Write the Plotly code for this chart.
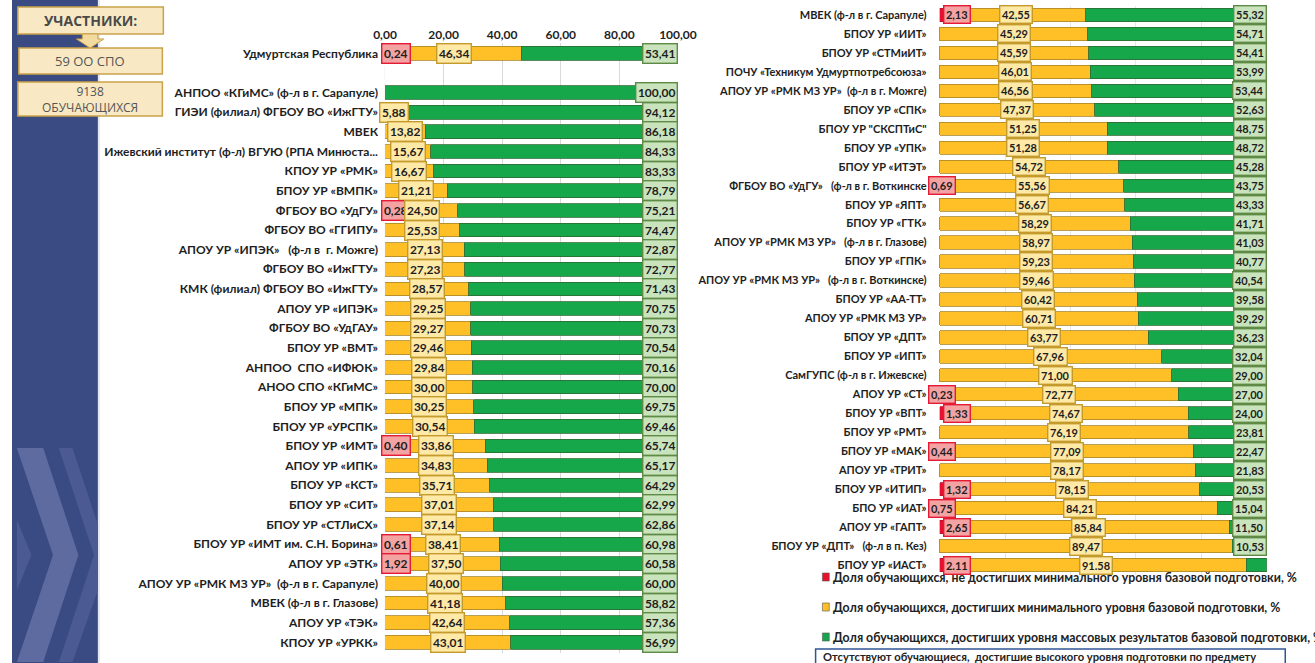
import plotly.graph_objects as go

# ---------------- DATA ----------------
left_names = [
    "Удмуртская Республика", " ",
    "АНПОО «КГиМС» (ф-л в г. Сарапуле)",
    "ГИЭИ (филиал) ФГБОУ ВО «ИжГТУ»",
    "МВЕК",
    "Ижевский институт (ф-л) ВГУЮ (РПА Минюста...",
    "КПОУ УР «РМК»",
    "БПОУ УР «ВМПК»",
    "ФГБОУ ВО «УдГУ»",
    "ФГБОУ ВО «ГГИПУ»",
    "АПОУ УР «ИПЭК»   (ф-л в  г. Можге)",
    "ФГБОУ ВО «ИжГТУ»",
    "КМК (филиал) ФГБОУ ВО «ИжГТУ»",
    "АПОУ УР «ИПЭК»",
    "ФГБОУ ВО «УдГАУ»",
    "БПОУ УР «ВМТ»",
    "АНПОО  СПО «ИФЮК»",
    "АНОО СПО «КГиМС»",
    "БПОУ УР «МПК»",
    "БПОУ УР «УРСПК»",
    "БПОУ УР «ИМТ»",
    "АПОУ УР «ИПК»",
    "БПОУ УР «КСТ»",
    "БПОУ УР «СИТ»",
    "БПОУ УР «СТЛиСХ»",
    "БПОУ УР «ИМТ им. С.Н. Борина»",
    "АПОУ УР «ЭТК»",
    "АПОУ УР «РМК МЗ УР»  (ф-л в г. Сарапуле)",
    "МВЕК (ф-л в г. Глазове)",
    "АПОУ УР «ТЭК»",
    "КПОУ УР «УРКК»",
]
left_red = [0.24, 0, 0, 0, 0, 0, 0, 0, 0.28, 0, 0, 0, 0, 0, 0, 0, 0, 0, 0, 0,
            0.40, 0, 0, 0, 0, 0.61, 1.92, 0, 0, 0, 0]
left_yellow = [46.34, 0, 0, 5.88, 13.82, 15.67, 16.67, 21.21, 24.50, 25.53, 27.13,
               27.23, 28.57, 29.25, 29.27, 29.46, 29.84, 30.00, 30.25, 30.54,
               33.86, 34.83, 35.71, 37.01, 37.14, 38.41, 37.50, 40.00, 41.18,
               42.64, 43.01]
left_green = [53.41, 0, 100.00, 94.12, 86.18, 84.33, 83.33, 78.79, 75.21, 74.47,
              72.87, 72.77, 71.43, 70.75, 70.73, 70.54, 70.16, 70.00, 69.75,
              69.46, 65.74, 65.17, 64.29, 62.99, 62.86, 60.98, 60.58, 60.00,
              58.82, 57.36, 56.99]

right_names = [
    "МВЕК (ф-л в г. Сарапуле)",
    "БПОУ УР «ИИТ»",
    "БПОУ УР «СТМиИТ»",
    "ПОЧУ «Техникум Удмуртпотребсоюза»",
    "АПОУ УР «РМК МЗ УР»  (ф-л в г. Можге)",
    "БПОУ УР «СПК»",
    "БПОУ УР \"СКСПТиС\"",
    "БПОУ УР «УПК»",
    "БПОУ УР «ИТЭТ»",
    "ФГБОУ ВО «УдГУ»   (ф-л в г. Воткинске",
    "БПОУ УР «ЯПТ»",
    "БПОУ УР «ГТК»",
    "АПОУ УР «РМК МЗ УР»   (ф-л в г. Глазове)",
    "БПОУ УР «ГПК»",
    "АПОУ УР «РМК МЗ УР»   (ф-л в г. Воткинске)",
    "БПОУ УР «АА-ТТ»",
    "АПОУ УР «РМК МЗ УР»",
    "БПОУ УР «ДПТ»",
    "БПОУ УР «ИПТ»",
    "СамГУПС (ф-л в г. Ижевске)",
    "АПОУ УР «СТ»",
    "БПОУ УР «ВПТ»",
    "БПОУ УР «РМТ»",
    "БПОУ УР «МАК»",
    "АПОУ УР «ТРИТ»",
    "БПОУ УР «ИТИП»",
    "БПО УР «ИАТ»",
    "АПОУ УР «ГАПТ»",
    "БПОУ УР «ДПТ»   (ф-л в п. Кез)",
    "БПОУ УР «ИАСТ»",
]
right_red = [2.13, 0, 0, 0, 0, 0, 0, 0, 0, 0.69, 0, 0, 0, 0, 0, 0, 0, 0, 0, 0,
             0.23, 1.33, 0, 0.44, 0, 1.32, 0.75, 2.65, 0, 2.11]
right_yellow = [42.55, 45.29, 45.59, 46.01, 46.56, 47.37, 51.25, 51.28, 54.72,
                55.56, 56.67, 58.29, 58.97, 59.23, 59.46, 60.42, 60.71, 63.77,
                67.96, 71.00, 72.77, 74.67, 76.19, 77.09, 78.17, 78.15, 84.21,
                85.84, 89.47, 91.58]
right_green = [55.32, 54.71, 54.41, 53.99, 53.44, 52.63, 48.75, 48.72, 45.28,
               43.75, 43.33, 41.71, 41.03, 40.77, 40.54, 39.58, 39.29, 36.23,
               32.04, 29.00, 27.00, 24.00, 23.81, 22.47, 21.83, 20.53, 15.04,
               11.50, 10.53, 6.32]
right_dot_rows = ["БПОУ УР «ИАСТ»"]  # this row is printed with a decimal point

legend_texts = [
    "Доля обучающихся, не достигших минимального уровня базовой подготовки, %",
    "Доля обучающихся, достигших минимального уровня базовой подготовки, %",
    "Доля обучающихся, достигших уровня массовых результатов базовой подготовки, %",
]
note_text = "Отсутствуют обучающиеся,  достигшие высокого уровня подготовки по предмету"
x_ticks = [0, 20, 40, 60, 80, 100]

# ---------------- STYLE ----------------
W, H = 1315, 663
RED, YEL, GRN = "#e8112d", "#ffbf26", "#17a74b"
RED_L, YEL_L, GRN_L = "#f4a3a3", "#ffe9a6", "#c9e4bd"
RED_B, YEL_B, GRN_B = "#e51a35", "#c49a2c", "#5f8a45"
FONT = "Lato"


def px(x):
    return x / W


def py(y):
    return 1 - y / H


def fmt(v, dot=False):
    s = f"{v:.2f}"
    return s if dot else s.replace(".", ",")


fig = go.Figure()

for names, red, yel, grn, xa, ya in [
    (left_names, left_red, left_yellow, left_green, "x", "y"),
    (right_names, right_red, right_yellow, right_green, "x2", "y2"),
]:
    for vals, col, edge, nm in [(red, RED, "#b0102a", legend_texts[0]),
                                (yel, YEL, "#a8862a", legend_texts[1]),
                                (grn, GRN, "#2d6b35", legend_texts[2])]:
        fig.add_trace(go.Bar(
            y=names, x=vals, orientation="h", name=nm, xaxis=xa, yaxis=ya,
            marker=dict(color=col, line=dict(color=edge, width=0.8)),
            showlegend=False, hoverinfo="x+y"))

annotations = []


def add_labels(names, red, yel, grn, xr, yr, size, right_panel=False, dots=()):
    for n, r, yv, g in zip(names, red, yel, grn):
        dot = n in dots
        base = dict(xref=xr, yref=yr, y=n, showarrow=False, yanchor="middle",
                    font=dict(family=FONT, size=size, color="#1e1e1e", weight="bold"),
                    borderwidth=1.4, borderpad=1.5)
        if r > 0:
            if right_panel and r < 1:
                red_pos = dict(x=0, xanchor="center", xshift=2)
            elif right_panel:
                red_pos = dict(x=0, xanchor="left", xshift=3)
            else:
                red_pos = dict(x=0, xanchor="left", xshift=-4)
            annotations.append(dict(base, **red_pos, text=fmt(r, dot),
                                    bgcolor=RED_L, bordercolor=RED_B))
        if yv > 0:
            cx = r + yv / 2
            if r > 0:
                cx = max(cx, r + 10)
            annotations.append(dict(base, x=cx, xanchor="center",
                                    text=fmt(yv, dot), bgcolor=YEL_L, bordercolor=YEL_B))
        if g > 0:
            annotations.append(dict(base, x=r + yv + g, xanchor="right", xshift=0,
                                    text=fmt(g, dot), bgcolor=GRN_L, bordercolor=GRN_B))


add_labels(left_names, left_red, left_yellow, left_green, "x", "y", 12)
add_labels(right_names, right_red, right_yellow, right_green, "x2", "y2", 11,
           right_panel=True, dots=right_dot_rows)

# ---- participants boxes ----
box_font = dict(family="Open Sans", size=13, color="#555555")
ctr = dict(xref="paper", yref="paper", showarrow=False, xanchor="center", yanchor="middle")
annotations.append(dict(ctr, x=px(80), y=py(20), text="УЧАСТНИКИ:",
                        font=dict(box_font, size=14, weight="bold", color="#4a4a4a")))
annotations.append(dict(ctr, x=px(80), y=py(61), text="59 ОО СПО", font=box_font))
annotations.append(dict(ctr, x=px(80), y=py(99), text="9138<br>ОБУЧАЮЩИХСЯ",
                        font=dict(box_font, size=12)))

# ---- legend ----
leg_y = [577, 607, 637]
shapes = []
for t, col, yy in zip(legend_texts, [RED, YEL, GRN], leg_y):
    shapes.append(dict(type="rect", xref="paper", yref="paper", x0=px(830), x1=px(837),
                       y0=py(yy + 4), y1=py(yy - 4), fillcolor=col,
                       line=dict(color="#555555", width=0.6)))
    annotations.append(dict(xref="paper", yref="paper", x=px(839), y=py(yy), xanchor="left",
                            yanchor="middle", showarrow=False, text=t,
                            font=dict(family=FONT, size=12.3, color="#222", weight="bold")))
shapes.append(dict(type="rect", xref="paper", yref="paper", x0=px(823), x1=px(1304),
                   y0=py(675), y1=py(649), fillcolor="white",
                   line=dict(color="#2f5597", width=1.5)))
annotations.append(dict(xref="paper", yref="paper", x=px(829), y=py(656), xanchor="left",
                        yanchor="middle", showarrow=False, text=note_text,
                        font=dict(family=FONT, size=11.2, color="#222", weight="bold")))

# ---- decorative background (left strip) ----
bg = [
    dict(type="rect", xref="paper", yref="paper", x0=0, x1=px(88), y0=0, y1=1,
         fillcolor="#3a4a82", line=dict(width=0), layer="below"),
    dict(type="rect", xref="paper", yref="paper", x0=px(88), x1=px(90), y0=0, y1=1,
         fillcolor="#e4e7f0", line=dict(width=0), layer="below"),
]


def path_of(pts):
    return "M " + " L ".join(f"{px(a):.5f},{py(b):.5f}" for a, b in pts) + " Z"


def poly(pts, color):
    return dict(type="path", xref="paper", yref="paper", path=path_of(pts), fillcolor=color,
                line=dict(width=0), layer="below")


bg.append(poly([(5, 448), (32, 448), (68, 555), (32, 662), (5, 662), (42, 555)], "#5d6ba0"))
bg.append(poly([(48, 448), (62, 448), (88, 525), (88, 590), (62, 662), (48, 662), (84, 555)], "#4b5a92"))
bg.append(poly([(5, 520), (20, 555), (5, 590)], "#4b5a92"))

# participants boxes shapes
for y0, y1, x0, x1 in [(7, 34, 6, 155), (48, 74, 7, 154), (82, 116, 6, 154)]:
    shapes.append(dict(type="rect", xref="paper", yref="paper", x0=px(x0), x1=px(x1),
                       y0=py(y1), y1=py(y0), fillcolor="#f8e9c4",
                       line=dict(color="#c9a24a", width=1.5)))
arrow = [(72, 34), (88, 34), (88, 39), (94, 39), (80, 48), (66, 39), (72, 39)]
shapes.append(dict(type="path", xref="paper", yref="paper", path=path_of(arrow),
                   fillcolor="#f3dba0", line=dict(color="#c9a24a", width=1)))

tickfont = dict(family=FONT, size=12, color="#1e1e1e", weight="bold")
fig.update_layout(
    width=W, height=H, barmode="stack",
    margin=dict(l=0, r=0, t=0, b=0),
    paper_bgcolor="white", plot_bgcolor="rgba(0,0,0,0)",
    separators=", ",
    annotations=annotations, shapes=bg + shapes,
    xaxis=dict(domain=[px(382), px(682)], range=[0, 100], side="top", tickvals=x_ticks,
               tickformat=".2f", tickfont=tickfont, showgrid=True, gridcolor="#d9d9d9",
               zeroline=False, anchor="y"),
    yaxis=dict(domain=[py(652.8), py(42.8)], autorange="reversed", tickfont=tickfont,
               ticks="", ticklabelstandoff=6, categoryorder="array",
               categoryarray=left_names, anchor="x", automargin=False),
    xaxis2=dict(domain=[px(950), px(1285)], range=[0, 100], showticklabels=False,
                tickvals=x_ticks, showgrid=True, gridcolor="#e6e6e6", zeroline=False,
                anchor="y2"),
    yaxis2=dict(domain=[py(574.5), py(5.5)], autorange="reversed",
                tickfont=dict(tickfont, size=11), ticks="", ticklabelstandoff=12,
                categoryorder="array", categoryarray=right_names, anchor="x2",
                automargin=False),
)
fig.update_traces(width=0.7)
fig.write_html("out.html", config={"displayModeBar": False},
               post_script="document.body.style.margin='0';document.body.style.overflow='hidden';")
